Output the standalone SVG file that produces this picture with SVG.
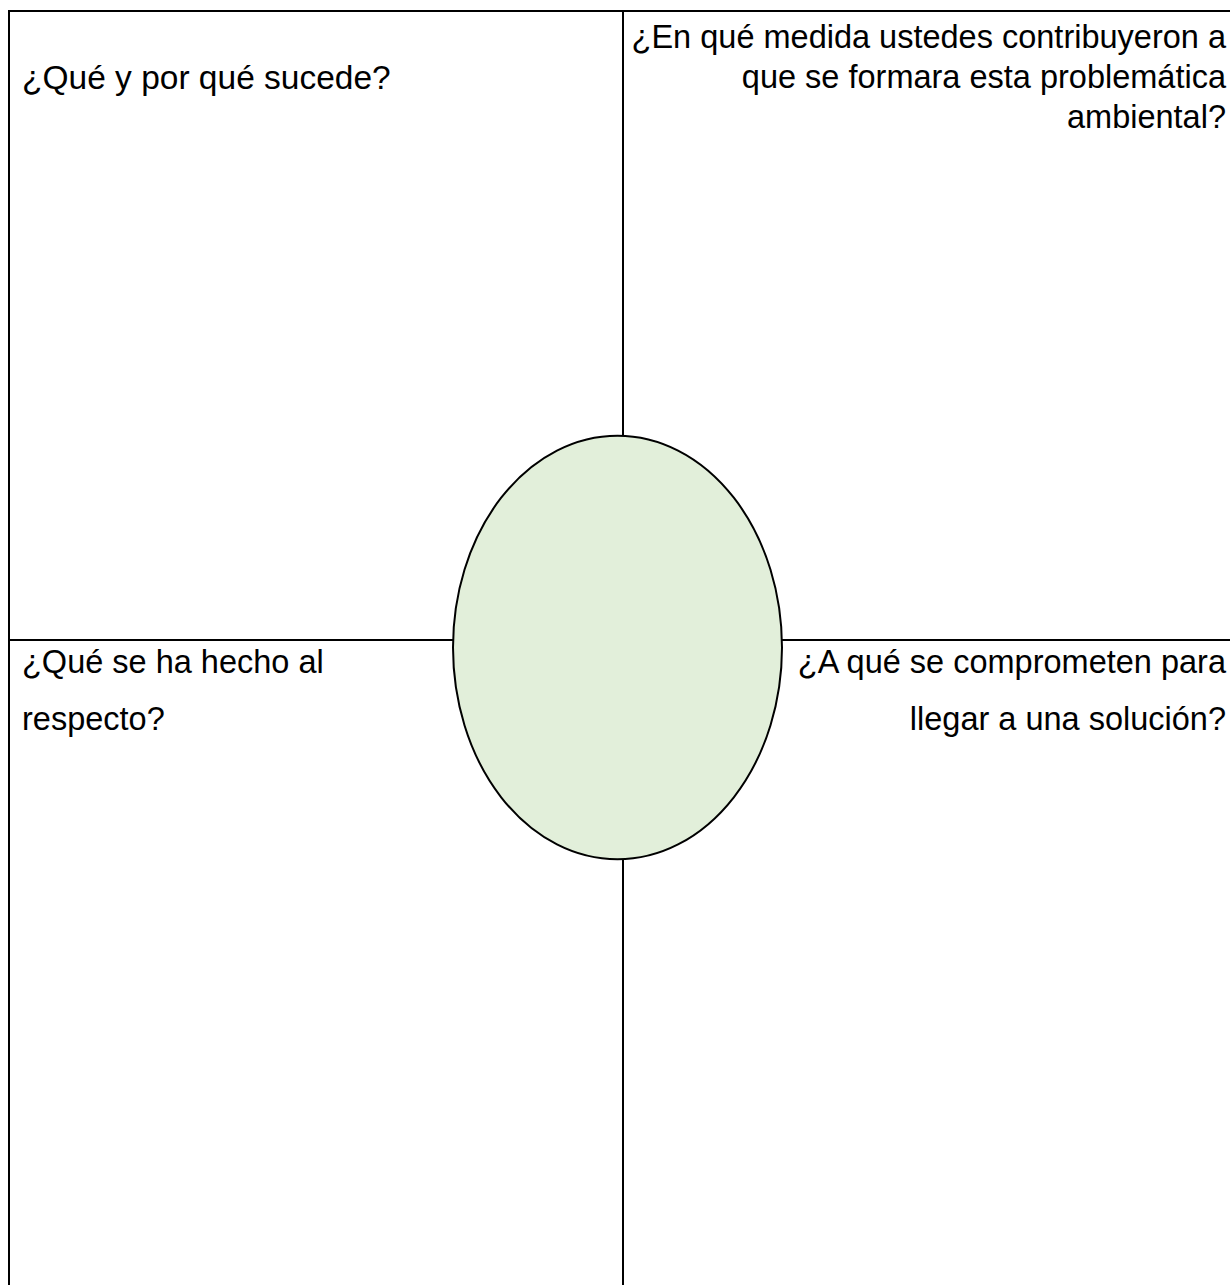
<svg xmlns="http://www.w3.org/2000/svg" width="1230" height="1285" viewBox="0 0 1230 1285">
  <style>
    .ln { stroke: #000; stroke-width: 2; fill: none; }
    .t { font-family: "Liberation Sans", Arial, sans-serif; font-size: 32.5px; fill: #000; }
    .r { text-anchor: end; }
  </style>
  <rect width="1230" height="1285" fill="#fff"/>
  <g id="connectors">
    <line class="ln" x1="9" y1="11" x2="1230" y2="11"/>
    <line class="ln" x1="9" y1="10" x2="9" y2="1285"/>
    <line class="ln" x1="623" y1="11" x2="623" y2="1285"/>
    <line class="ln" x1="9" y1="640" x2="1230" y2="640"/>
  </g>
  <g id="q1">
    <text class="t" x="22" y="89" style="font-size:33.5px">¿Qué y por qué sucede?</text>
  </g>
  <g id="q2">
    <text class="t r" x="1226" y="48">¿En qué medida ustedes contribuyeron a</text>
    <text class="t r" x="1226" y="88">que se formara esta problemática</text>
    <text class="t r" x="1226" y="128">ambiental?</text>
  </g>
  <g id="q3">
    <text class="t" x="22" y="673">¿Qué se ha hecho al</text>
    <text class="t" x="22" y="730">respecto?</text>
  </g>
  <g id="q4">
    <text class="t r" x="1226" y="673">¿A qué se comprometen para</text>
    <text class="t r" x="1226" y="730">llegar a una solución?</text>
  </g>
  <g id="center">
    <ellipse cx="617.5" cy="647.5" rx="164.5" ry="211.8" fill="#E2EFDA" stroke="#000" stroke-width="2"/>
  </g>
</svg>
